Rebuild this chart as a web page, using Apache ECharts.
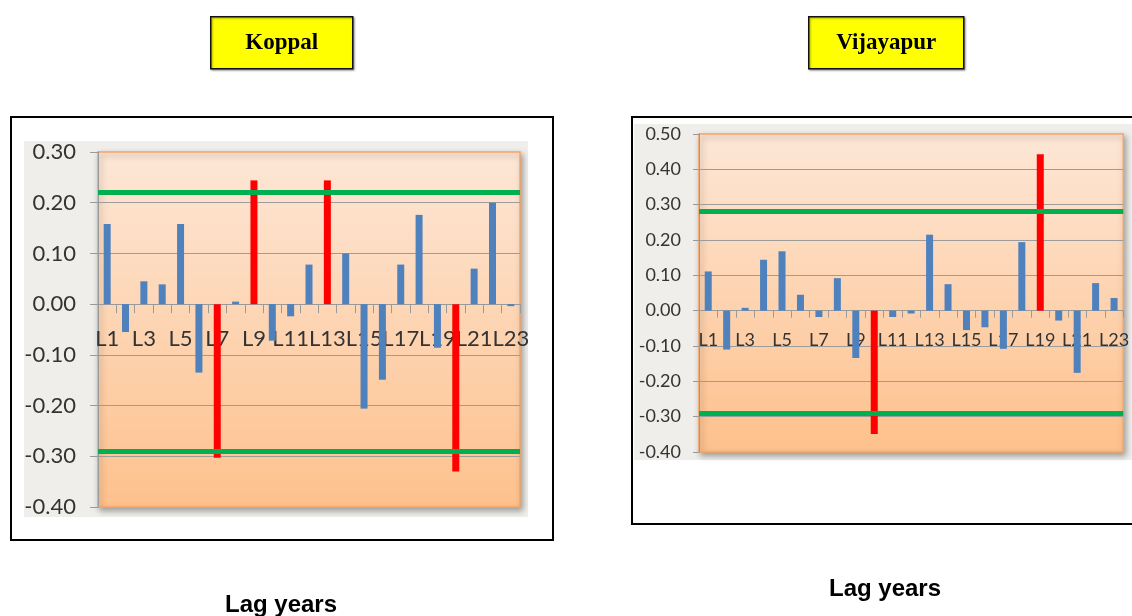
<!DOCTYPE html>
<html>
<head>
<meta charset="utf-8">
<script src="https://cdn.jsdelivr.net/npm/echarts@6/dist/echarts.min.js"></script>
<style>
html,body{margin:0;padding:0;background:#fff;}
#c{width:1132px;height:616px;}
</style>
</head>
<body>
<div id="c"></div>
<script>
// ---- data ----
var lagLabels = ['L1','L2','L3','L4','L5','L6','L7','L8','L9','L10','L11','L12','L13','L14','L15','L16','L17','L18','L19','L20','L21','L22','L23'];
var koppalValues = [0.158,-0.055,0.045,0.039,0.158,-0.135,-0.303,0.005,0.244,-0.072,-0.024,0.078,0.244,0.100,-0.206,-0.149,0.078,0.176,-0.086,-0.330,0.070,0.200,-0.004];
var vijayapurValues = [0.111,-0.110,0.008,0.144,0.168,0.045,-0.018,0.092,-0.134,-0.349,-0.018,-0.008,0.215,0.075,-0.055,-0.047,-0.108,0.194,0.443,-0.028,-0.176,0.078,0.036];
var koppalLimits = [0.224,-0.286];
var vijayapurLimits = [0.285,-0.290];
var koppalTicks = [-0.4,0.3,0.1];     // min, max, interval
var vijayapurTicks = [-0.4,0.5,0.1];
var titles = ['Koppal','Vijayapur'];
var xAxisTitle = 'Lag years';

// ---- build ----
var BLUE = '#4f81bd', RED = '#ff0000', GREEN = '#00b050';
function barData(vals, lim){
  return vals.map(function(v){
    var sig = v > lim[0] || v < lim[1];
    return {value: v, itemStyle: {color: sig ? RED : BLUE}};
  });
}
var plotBg = {type:'linear',x:0,y:0,x2:0,y2:1,colorStops:[{offset:0,color:'#fde7d7'},{offset:1,color:'#fdc18c'}]};
var chart = echarts.init(document.getElementById('c'), null, {renderer:'canvas'});

var grids = [
  {left:98, right:612, top:152, bottom:109},
  {left:699, right:3, top:134, bottom:164}
];
function gridCfg(g){
  return {left:g.left,right:g.right,top:g.top,bottom:g.bottom,show:true,backgroundColor:plotBg,
    borderColor:'#f7a465',borderWidth:1.5,shadowBlur:6,shadowColor:'rgba(0,0,0,0.35)',shadowOffsetX:2,shadowOffsetY:3,containLabel:false};
}
// place the category axis on the zero line of the value axis
function zeroOffset(g,t){
  var h = 616 - g.top - g.bottom;
  return -h * (0 - t[0]) / (t[1] - t[0]);
}
function xAx(gi,t,fs,margin,tickLen){
  return {type:'category',gridIndex:gi,data:lagLabels,position:'bottom',offset:zeroOffset(grids[gi],t),
    axisLine:{show:true,onZero:false,lineStyle:{color:'#9a9a9a',width:1}},
    axisTick:{show:true,interval:0,length:tickLen,lineStyle:{color:'#9a9a9a'}},
    axisLabel:{interval:1,color:'#333',fontFamily:'Lato',fontSize:fs,margin:margin},
    splitLine:{show:false}};
}
function yAx(gi,t,fs,margin,tickLen){
  return {type:'value',gridIndex:gi,min:t[0],max:t[1],interval:t[2],
    axisLine:{show:true,lineStyle:{color:'#9a9a9a'}},
    axisTick:{show:true,length:tickLen,lineStyle:{color:'#9a9a9a'}},
    axisLabel:{color:'#333',fontFamily:'Lato',fontSize:fs,margin:margin,formatter:function(v){return v.toFixed(2);}},
    splitLine:{show:true,showMinLine:false,showMaxLine:false,lineStyle:{color:'#9c9c9c',width:1}}};
}
function series(gi,vals,lim,bw){
  return {type:'bar',xAxisIndex:gi,yAxisIndex:gi,data:barData(vals,lim),barWidth:bw,
    silent:true,animation:false,
    markLine:{silent:true,symbol:'none',animation:false,label:{show:false},
      lineStyle:{color:GREEN,width:5,type:'solid'},
      data:lim.map(function(l){return {yAxis:l};})}};
}

function titleBox(x,y,w,h,text){
  return {type:'group',left:x,top:y,z:10,children:[
    {type:'rect',shape:{x:0,y:0,width:w,height:h},style:{fill:'#ffff00',stroke:'#111',lineWidth:1.5,shadowBlur:2,shadowColor:'rgba(0,0,0,0.35)',shadowOffsetX:1,shadowOffsetY:1}},
    {type:'text',x:w/2,y:h/2,style:{text:text,fill:'#000',font:'bold 23px "Liberation Serif"',textAlign:'center',textVerticalAlign:'middle'}}
  ]};
}

var option = {
  animation:false,
  backgroundColor:'#ffffff',
  grid:[gridCfg(grids[0]), gridCfg(grids[1])],
  xAxis:[xAx(0,koppalTicks,22,24,9), xAx(1,vijayapurTicks,18,21,7)],
  yAxis:[yAx(0,koppalTicks,22,22,8), yAx(1,vijayapurTicks,18,18,6)],
  series:[series(0,koppalValues,koppalLimits,7), series(1,vijayapurValues,vijayapurLimits,7)],
  graphic:{elements:[
    {type:'rect',z:-10,shape:{x:11,y:117,width:542,height:423},style:{fill:'#ffffff',stroke:'#000',lineWidth:2}},
    {type:'rect',z:-9,shape:{x:24,y:141,width:504,height:376},style:{fill:'#efeeea'}},
    {type:'rect',z:-10,shape:{x:632,y:117,width:510,height:407},style:{fill:'#ffffff',stroke:'#000',lineWidth:2}},
    {type:'rect',z:-9,shape:{x:634,y:124,width:500,height:336},style:{fill:'#efeeea'}},
    titleBox(210,16,142,52,titles[0]),
    titleBox(808,16,155,52,titles[1]),
    {type:'text',z:10,x:281,y:605,style:{text:xAxisTitle,fill:'#000',font:'bold 24px "Liberation Sans"',textAlign:'center',textVerticalAlign:'middle'}},
    {type:'text',z:10,x:885,y:589,style:{text:xAxisTitle,fill:'#000',font:'bold 24px "Liberation Sans"',textAlign:'center',textVerticalAlign:'middle'}}
  ]}
};
chart.setOption(option);
</script>
</body>
</html>
